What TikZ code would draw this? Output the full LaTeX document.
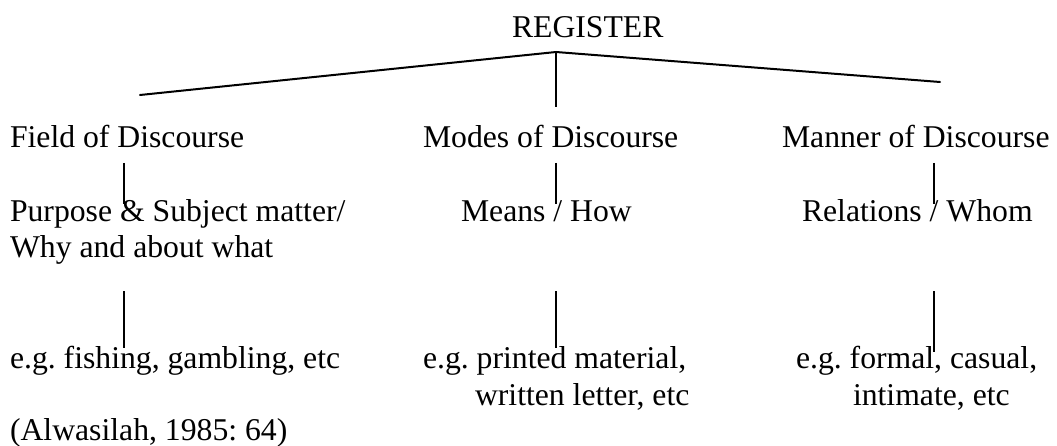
\documentclass[tikz,border=0pt]{standalone}
\usepackage{fontspec}
\setmainfont{Liberation Serif}
\frenchspacing
\begin{document}
\begin{tikzpicture}[x=1pt,y=-1pt,
  lbl/.style={anchor=base west,inner sep=0pt,outer sep=0pt,font=\fontsize{31.7}{37}\selectfont},
  branch/.style={line width=2pt,line cap=round,line join=round},
  stem/.style={line width=1.2pt}]
\useasboundingbox (0,0) rectangle (1057,446);
% texts
\node[lbl] (reg) at (512,38) {REGISTER};
\node[lbl] (field) at (10,148) {Field of Discourse};
\node[lbl] (modes) at (423,148) {Modes of Discourse};
\node[lbl] (manner) at (782,148) {Manner of Discourse};
\node[lbl] (purpose) at (10,222) {Purpose \& Subject matter/};
\node[lbl] (why) at (10,258) {Why and about what};
\node[lbl] (means) at (461,222) {Means / How};
\node[lbl] (rel) at (802,222) {Relations / Whom};
\node[lbl] (eg1) at (10,368) {e.g. fishing, gambling, etc};
\node[lbl] (eg2) at (423,368) {e.g. printed material,};
\node[lbl] (eg2b) at (475,405) {written letter, etc};
\node[lbl] (eg3) at (796,368) {e.g. formal, casual,};
\node[lbl] (eg3b) at (853,405) {intimate, etc};
\node[lbl] (cite) at (10,440) {(Alwasilah, 1985: 64)};
% tree coordinates
\coordinate (apex) at (556,52);
\coordinate (lend) at (140,95);
\coordinate (rend) at (940,82);
\coordinate (vend) at (556,107);
\draw[branch] (lend) -- (apex) -- (rend);
\draw[stem] (apex) -- (vend);
% upper stems
\coordinate (a1) at (124,163); \coordinate (a2) at (124,204);
\coordinate (b1) at (556,163); \coordinate (b2) at (556,204);
\coordinate (c1) at (934,163); \coordinate (c2) at (934,204);
\draw[stem] (a1) -- (a2);
\draw[stem] (b1) -- (b2);
\draw[stem] (c1) -- (c2);
% lower stems
\coordinate (d1) at (124,291); \coordinate (d2) at (124,348);
\coordinate (e1) at (556,291); \coordinate (e2) at (556,348);
\coordinate (f1) at (934,291); \coordinate (f2) at (934,352);
\draw[stem] (d1) -- (d2);
\draw[stem] (e1) -- (e2);
\draw[stem] (f1) -- (f2);
\end{tikzpicture}
\end{document}
